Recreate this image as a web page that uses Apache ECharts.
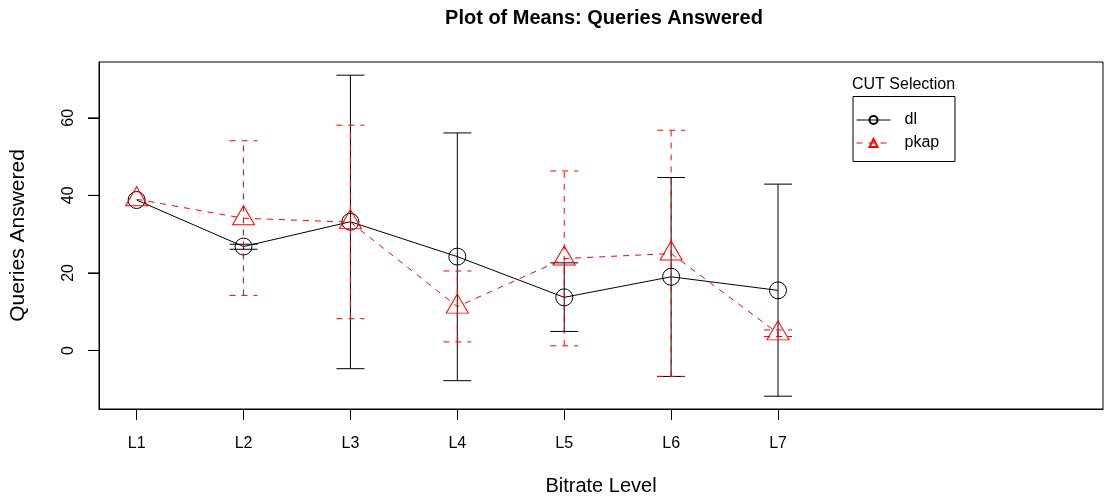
<!DOCTYPE html>
<html>
<head>
<meta charset="utf-8">
<script src="https://cdn.jsdelivr.net/npm/echarts@6/dist/echarts.min.js"></script>
<style>
  html, body { margin: 0; padding: 0; background: #fff; }
  #chart { width: 1107px; height: 502px; }
</style>
</head>
<body>
<div id="chart"></div>
<script>
// bitrate levels on the x axis
var levels = ['L1', 'L2', 'L3', 'L4', 'L5', 'L6', 'L7'];
var yTicks = [0, 20, 40, 60];

// group "dl"
var dlMean = [38.8, 26.8, 33.2, 24.2, 13.7, 19.0, 15.5];
var dlLow  = [null, 26.1, -4.7, -7.8, 4.9, -6.7, -11.8];
var dlHigh = [null, 27.4, 71.0, 56.1, 22.6, 44.6, 42.9];

// group "pkap"
var pkapMean = [39.0, 34.1, 33.1, 11.3, 23.7, 25.0, 4.4];
var pkapLow  = [null, 14.2, 8.2, 2.2, 1.2, -6.7, 3.6];
var pkapHigh = [null, 54.1, 58.1, 20.5, 46.3, 56.8, 5.3];

var FONT = 'Liberation Sans, Arial, sans-serif';
var X_MIN = 0.648, X_MAX = 10.04;

function points(vals) {
  return vals.map(function (v, i) { return [i + 1, v]; });
}

function bars(lo, hi) {
  var out = [];
  for (var i = 0; i < lo.length; i++) {
    if (lo[i] == null || hi[i] == null) continue;
    out.push([i + 1, lo[i], hi[i]]);
  }
  return out;
}

// vertical error bar with caps
function errorBar(color, dash) {
  return function (params, api) {
    var x = api.value(0);
    var lo = api.coord([x, api.value(1)]);
    var hi = api.coord([x, api.value(2)]);
    var w = 14;
    var style = { stroke: color, lineWidth: 1, lineDash: dash, fill: null };
    return {
      type: 'group',
      children: [
        { type: 'line', shape: { x1: lo[0], y1: lo[1], x2: hi[0], y2: hi[1] }, style: style },
        { type: 'line', shape: { x1: hi[0] - w, y1: hi[1], x2: hi[0] + w, y2: hi[1] }, style: style },
        { type: 'line', shape: { x1: lo[0] - w, y1: lo[1], x2: lo[0] + w, y2: lo[1] }, style: style }
      ]
    };
  };
}

// outward y-axis tick marks
function yTickMark(params, api) {
  var p = api.coord([api.value(0), api.value(1)]);
  return {
    type: 'line',
    shape: { x1: p[0] - 11, y1: p[1], x2: p[0], y2: p[1] },
    style: { stroke: '#000', lineWidth: 1 }
  };
}

var chart = echarts.init(document.getElementById('chart'), null, { renderer: 'canvas' });

var tickX = levels.map(function (l, i) { return i + 1; });

var option = {
  animation: false,
  backgroundColor: '#fff',
  textStyle: { fontFamily: FONT },
  title: {
    text: 'CUT Selection',
    left: 852,
    top: 77,
    padding: 0,
    textStyle: { fontSize: 16, fontWeight: 'normal', color: '#000', fontFamily: FONT }
  },
  graphic: [
    {
      type: 'text', x: 604, y: 8,
      style: { text: 'Plot of Means: Queries Answered', font: 'bold 20px ' + FONT, fill: '#000', textAlign: 'center' }
    },
    {
      type: 'rect', x: 853, y: 96.5,
      shape: { width: 102, height: 65 },
      style: { fill: null, stroke: '#000', lineWidth: 1 }
    }
  ],
  legend: {
    orient: 'vertical',
    left: 856,
    top: 112,
    padding: 0,
    itemWidth: 34,
    itemHeight: 10,
    itemGap: 7,
    lineStyle: { width: 1 },
    textStyle: { fontSize: 16, color: '#000', fontFamily: FONT, padding: [0, 0, 0, 9] },
    data: ['dl', 'pkap']
  },
  grid: {
    left: 97, top: 62, right: 4, bottom: 93,
    show: true, borderColor: '#000', borderWidth: 1
  },
  xAxis: {
    type: 'value',
    min: X_MIN,
    max: X_MAX,
    name: 'Bitrate Level',
    nameLocation: 'middle',
    nameGap: 67,
    nameTextStyle: { fontSize: 20, color: '#000', fontFamily: FONT },
    axisLine: { show: true, onZero: false, lineStyle: { color: '#000' } },
    splitLine: { show: false },
    axisTick: {
      show: true, length: 11, lineStyle: { color: '#000' },
      customValues: tickX
    },
    axisLabel: {
      fontSize: 16, color: '#000', margin: 27, fontFamily: FONT,
      customValues: tickX,
      formatter: function (v) { return levels[Math.round(v) - 1]; }
    }
  },
  yAxis: {
    type: 'value',
    min: -15.1,
    max: 74.4,
    name: 'Queries Answered',
    nameLocation: 'middle',
    nameGap: 70,
    nameTextStyle: { fontSize: 21, color: '#000', fontFamily: FONT },
    axisLine: { show: true, onZero: false, lineStyle: { color: '#000' } },
    splitLine: { show: false },
    axisTick: { show: true, inside: false, length: 11, lineStyle: { color: '#000' }, customValues: yTicks },
    axisLabel: {
      fontSize: 16, color: '#000', rotate: 90, margin: 22, fontFamily: FONT,
      customValues: yTicks
    }
  },
  series: [
    {
      name: 'y-ticks',
      type: 'custom',
      renderItem: yTickMark,
      clip: false,
      silent: true,
      data: yTicks.map(function (v) { return [X_MIN, v]; }),
      z: 10
    },
    {
      name: 'dl-bars',
      type: 'custom',
      renderItem: errorBar('#000', null),
      data: bars(dlLow, dlHigh),
      z: 2
    },
    {
      name: 'dl',
      type: 'line',
      data: points(dlMean),
      symbol: 'circle',
      symbolSize: 17,
      itemStyle: { color: 'rgba(0,0,0,0)', borderColor: '#000', borderWidth: 1 },
      lineStyle: { color: '#000', width: 1, type: 'solid' },
      z: 3
    },
    {
      name: 'pkap-bars',
      type: 'custom',
      renderItem: errorBar('#ff0000', [6, 6]),
      data: bars(pkapLow, pkapHigh),
      z: 4
    },
    {
      name: 'pkap',
      type: 'line',
      data: points(pkapMean),
      symbol: 'triangle',
      symbolSize: [22, 19],
      symbolOffset: [0, -3],
      itemStyle: { color: 'rgba(0,0,0,0)', borderColor: '#ff0000', borderWidth: 1 },
      lineStyle: { color: '#ff0000', width: 1, type: [6, 6] },
      z: 5
    }
  ]
};

chart.setOption(option);
</script>
</body>
</html>
